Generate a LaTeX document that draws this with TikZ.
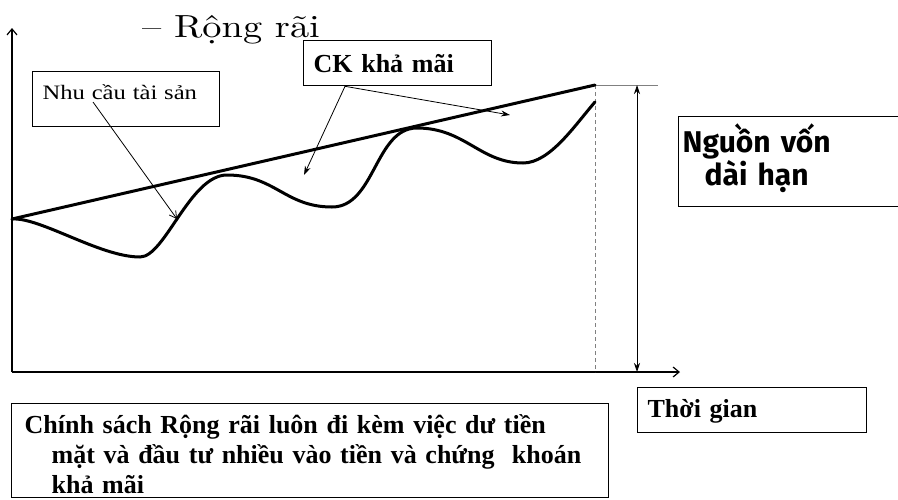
\documentclass[tikz,border=0pt]{standalone}
\usepackage{fontspec}
\setmainfont{Liberation Serif}
\newfontfamily\titlefont{lmroman10-regular.otf}[FakeStretch=1.2]
\newfontfamily\needfont{Liberation Serif}[FakeStretch=1.2]
\newfontfamily\sourcefont{Fira Sans}
\usetikzlibrary{arrows.meta}

\begin{document}
\begin{tikzpicture}[x=1pt, y=-1pt,
		box/.style={draw, line width=1.3pt, rectangle, anchor=north west, inner ysep=0pt, align=left},
		boldtext/.style={font=\fontsize{26}{30}\selectfont\bfseries},
		axis/.style={line width=1.2pt, -{Straight Barb[length=6pt, width=10pt]}},
		heavy/.style={line width=3pt, line cap=round},
		pointer/.style={line width=0.8pt},
		]
		\useasboundingbox (0,0) rectangle (898,499);
		\node [anchor=base west, inner sep=0pt, font=\titlefont\fontsize{32}{36}\selectfont] (title) at (142,37) {– Rộng rãi};

		\coordinate (origin) at (12,372);
		\coordinate (ytop) at (12,28);
		\coordinate (xend) at (680,372);
		\draw [axis] (origin) -- (ytop);
		\draw [axis] (origin) -- (xend);

		\coordinate (lstart) at (12,219);
		\coordinate (lend) at (595,85);
		\coordinate (tbase) at (595,372);
		\coordinate (ttick) at (658,85);
		\draw [gray, line width=1pt, dash pattern=on 4pt off 3pt] (lend) -- (tbase);
		\draw [gray, line width=1pt] (lend) -- (ttick);
		\draw [heavy] (lstart) -- (lend);
		\draw [heavy] (lstart) .. controls (40,217) and (100,257) .. (140,257)
			.. controls (165,257) and (190,175) .. (227,175)
			.. controls (275,175) and (285,207) .. (332,207)
			.. controls (375,207) and (375,128) .. (417,128)
			.. controls (465,128) and (480,163) .. (523,163)
			.. controls (550,163) and (575,125) .. (595,102);

		\coordinate (spantop) at (637,85);
		\coordinate (spanbot) at (637,372);
		\draw [pointer, {Stealth[length=9pt, width=6pt]}-{Stealth[length=9pt, width=6pt]}] (spantop) -- (spanbot);

		\node [box, text width=167pt, inner xsep=10pt, text height=28pt, text depth=27pt, font=\needfont\fontsize{20.5}{24}\selectfont] (need) at (32,71) {Nhu cầu tài sản};
		\node [box, boldtext, text width=168pt, inner xsep=10pt, text height=32pt, text depth=13pt] (ck) at (303,40) {CK khả mãi};
		\node [box, font=\sourcefont\bfseries\fontsize{30}{30}\selectfont, text width=214pt, inner xsep=4pt, text height=36pt, text depth=54pt] (source) at (678,116) {Nguồn vốn\\\hspace*{22pt}dài hạn};
		\node [box, boldtext, text width=209pt, inner xsep=10pt, text height=30pt, text depth=15pt] (time) at (637,387) {Thời gian};
		\node [box, boldtext, text width=571pt, inner xsep=13pt, text height=30pt, text depth=64pt] (policy) at (11,403) {Chính sách Rộng rãi luôn đi kèm việc dư tiền\\\hspace*{27pt}mặt và đầu tư nhiều vào tiền và chứng\ \ khoán\\\hspace*{27pt}khả mãi};

		\coordinate (needtip) at (177,219);
		\coordinate (ckright) at (510,115);
		\coordinate (ckleft) at (304,175);
		\draw [pointer, -{Straight Barb[length=7pt, width=8pt]}] ([xshift=61pt, yshift=-31pt]need.north west) -- (needtip);
		\draw [pointer, -{Stealth[length=9pt, width=6pt]}] ([xshift=42pt]ck.south west) -- (ckright);
		\draw [pointer, -{Stealth[length=9pt, width=6pt]}] ([xshift=42pt]ck.south west) -- (ckleft);
	\end{tikzpicture}
\end{document}
